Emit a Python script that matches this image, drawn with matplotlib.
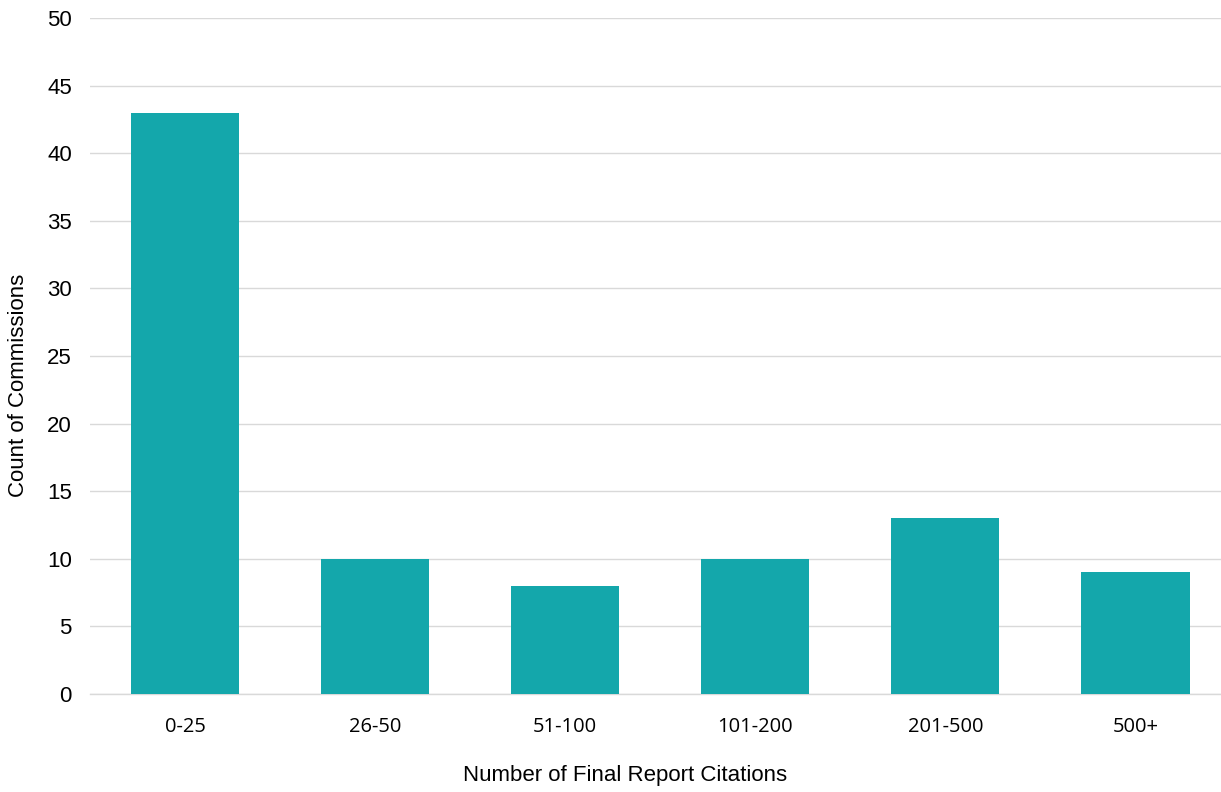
import matplotlib.pyplot as plt

# citation ranges and number of commissions in each
categories = ['0-25', '26-50', '51-100', '101-200', '201-500', '500+']
counts = [43, 10, 8, 10, 13, 9]

fig = plt.figure(figsize=(12.21, 7.92), dpi=100)
ax = fig.add_axes([0.0737, 0.124, 0.934, 0.853])

ax.bar(range(len(categories)), counts, width=0.57, color='#14A7AB', zorder=3)

ax.set_xlim(-0.5, len(categories) - 0.5)
ax.set_ylim(0, 50)
ax.set_yticks(range(0, 51, 5))
ax.set_xticks(range(len(categories)))
ax.set_xticklabels(categories, fontfamily='Open Sans', fontsize=14.5)
for lbl in ax.get_yticklabels():
    lbl.set_fontfamily('Liberation Sans')
    lbl.set_fontsize(16)

ax.grid(axis='y', color='#D9D9D9', linewidth=1, zorder=0)
for s in ['top', 'right', 'left']:
    ax.spines[s].set_visible(False)
ax.spines['bottom'].set_color('#D9D9D9')
ax.spines['bottom'].set_linewidth(1)
ax.tick_params(axis='both', length=0)
ax.tick_params(axis='x', pad=17)
ax.tick_params(axis='y', pad=13)

ax.set_xlabel('Number of Final Report Citations', fontfamily='Liberation Sans',
              fontsize=16)
ax.set_ylabel('Count of Commissions', fontfamily='Liberation Sans',
              fontsize=16, labelpad=13)
# labels sit a bit off the axes centre in the original
ax.xaxis.set_label_coords(0.469, -0.105)
ax.yaxis.get_label().set_position((0, 0.457))

fig.savefig('out.png', dpi=100)
